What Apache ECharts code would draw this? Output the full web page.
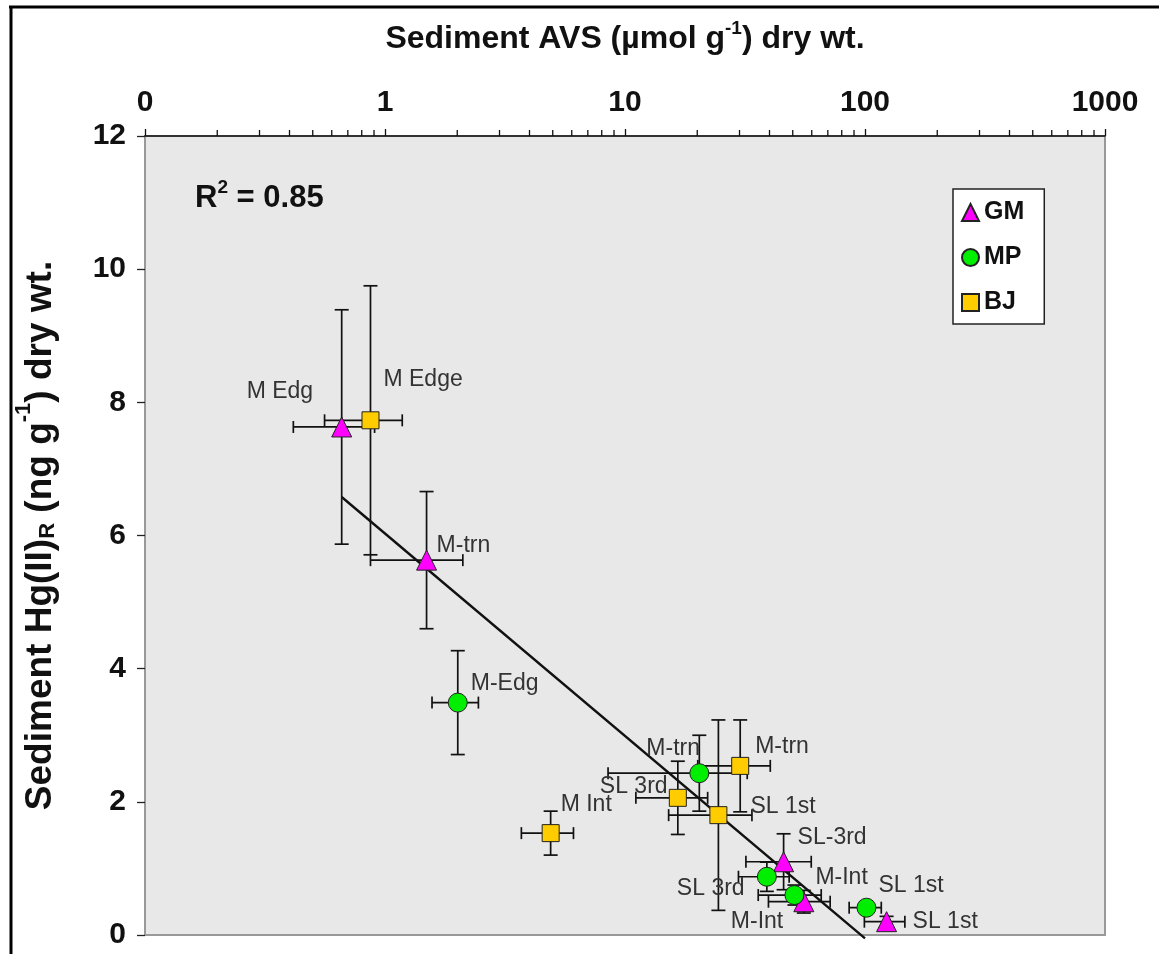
<!DOCTYPE html>
<html>
<head>
<meta charset="utf-8">
<title>Sediment Hg(II)R vs AVS</title>
<script src="https://cdn.jsdelivr.net/npm/echarts@6/dist/echarts.min.js"></script>
<style>
  html, body { margin: 0; padding: 0; background: #ffffff; }
  #chart { width: 1159px; height: 954px; }
</style>
</head>
<body>
<div id="chart"></div>
<script>
// ---- Site data: AVS (x, µmol/g) and reactive Hg(II) (y, ng/g) with ± errors ----
const gmNames = ['M Edg', 'M-trn', 'SL-3rd', 'M-Int', 'SL 1st'];
const gmAVS   = [0.66, 1.49, 45.8, 55.6, 123];
const gmAVSErr = [0.245, 0.62, 13.9, 16, 23.6];
const gmHg    = [7.63, 5.63, 1.10, 0.50, 0.20];
const gmHgErr = [1.76, 1.03, 0.42, 0.17, 0.08];

const mpNames = ['M-Edg', 'M-trn', 'SL 3rd', 'M-Int', 'SL 1st'];
const mpAVS   = [2.01, 20.4, 39.0, 50.8, 101.4];
const mpAVSErr = [0.44, 11.9, 9.3, 14.9, 15.5];
const mpHg    = [3.49, 2.43, 0.875, 0.60, 0.41];
const mpHgErr = [0.78, 0.57, 0.22, 0.15, 0.06];

const bjNames = ['M Edge', 'M Int', 'SL 3rd', 'SL 1st', 'M-trn'];
const bjAVS   = [0.87, 4.90, 16.6, 24.5, 30.2];
const bjAVSErr = [0.31, 1.2, 5.5, 9.3, 10.1];
const bjHg    = [7.73, 1.53, 2.06, 1.80, 2.54];
const bjHgErr = [2.02, 0.33, 0.55, 1.43, 0.69];

// Log-linear fit: Hg = a + b * log10(AVS), drawn across the sampled AVS range
const fitA = 6.03;
const fitB = -3.04;
const fitR2 = '0.85';
const fitAVSRange = [0.66, 100];

// Axis tick values
const avsDecades = [0.1, 1, 10, 100, 1000];
const avsTickText = ['0', '1', '10', '100', '1000'];
const minorMultipliers = [2, 3, 4, 5, 6, 7, 8, 9];

// Label placement (pixels from marker centre to label's left/middle)
const gmLabelOffsets = [[-95, -35], [10, -14], [14, -24], [-73, 20], [26, 0]];
const mpLabelOffsets = [[13, -19], [-53, -25], [-90, 12], [21, -17], [12, -22]];
const bjLabelOffsets = [[13, -41], [10, -28], [-78, -11], [32, -8], [15, -19]];

const FONT = '"Liberation Sans", Arial, Helvetica, sans-serif';
const Y_MAX = 12;

function pointData(names, xs, ys, offsets) {
  return xs.map((x, i) => ({
    name: names[i],
    value: [x, ys[i]],
    label: { offset: offsets[i] }
  }));
}
function errData(xs, xe, ys, ye) {
  return xs.map((x, i) => [x, ys[i], xe[i], ye[i]]);
}

const CAP = 7;
function renderErrorBar(params, api) {
  const x = api.value(0), y = api.value(1), xe = api.value(2), ye = api.value(3);
  const style = { stroke: '#111', lineWidth: 1.7 };
  const children = [];
  if (ye > 0) {
    const t = api.coord([x, y + ye]);
    const b = api.coord([x, y - ye]);
    children.push({ type: 'line', shape: { x1: t[0], y1: t[1], x2: b[0], y2: b[1] }, style });
    children.push({ type: 'line', shape: { x1: t[0] - CAP, y1: t[1], x2: t[0] + CAP, y2: t[1] }, style });
    children.push({ type: 'line', shape: { x1: b[0] - CAP, y1: b[1], x2: b[0] + CAP, y2: b[1] }, style });
  }
  if (xe > 0) {
    const l = api.coord([x - xe, y]);
    const r = api.coord([x + xe, y]);
    children.push({ type: 'line', shape: { x1: l[0], y1: l[1], x2: r[0], y2: r[1] }, style });
    children.push({ type: 'line', shape: { x1: l[0], y1: l[1] - CAP + 1, x2: l[0], y2: l[1] + CAP - 1 }, style });
    children.push({ type: 'line', shape: { x1: r[0], y1: r[1] - CAP + 1, x2: r[0], y2: r[1] + CAP - 1 }, style });
  }
  return { type: 'group', children };
}

// Minor ticks on the log AVS axis (2..9 within each decade)
const minorTickData = [];
avsDecades.slice(0, -1).forEach(d => minorMultipliers.forEach(m => minorTickData.push([d * m, Y_MAX])));
function renderMinorTick(params, api) {
  const p = api.coord([api.value(0), api.value(1)]);
  return { type: 'line', shape: { x1: p[0], y1: p[1], x2: p[0], y2: p[1] - 6 }, style: { stroke: '#111', lineWidth: 1.3 } };
}

const fitLine = fitAVSRange.map(x => [x, fitA + fitB * Math.log10(x)]);

const labelStyle = {
  show: true,
  position: 'inside',
  align: 'left',
  verticalAlign: 'middle',
  formatter: '{b}',
  color: '#333',
  fontFamily: FONT,
  fontSize: 23
};

function scatterSeries(name, symbol, size, color, data) {
  return {
    name, type: 'scatter', symbol, symbolSize: size, z: 5,
    itemStyle: { color, borderColor: '#222', borderWidth: 1, opacity: 1 },
    label: labelStyle,
    emphasis: { disabled: true },
    data
  };
}
function errorSeries(data) {
  return { type: 'custom', renderItem: renderErrorBar, z: 3, silent: true, encode: { x: 0, y: 1 }, data };
}

const chart = echarts.init(document.getElementById('chart'), null, { renderer: 'canvas' });
chart.setOption({
  backgroundColor: '#ffffff',
  animation: false,
  textStyle: { fontFamily: FONT },
  grid: {
    left: 145, top: 136, width: 960, height: 799,
    show: true, backgroundColor: '#e8e8e8', borderColor: '#999', borderWidth: 2
  },
  xAxis: {
    type: 'log', logBase: 10, position: 'top',
    min: avsDecades[0], max: avsDecades[avsDecades.length - 1],
    name: '{b|Sediment AVS (µmol g}{sup|-1}{b|) dry wt.}',
    nameLocation: 'middle', nameGap: 81,
    nameTextStyle: {
      rich: {
        b: { fontFamily: FONT, fontSize: 32, fontWeight: 'bold', color: '#111', lineHeight: 36, verticalAlign: 'bottom' },
        sup: { fontFamily: FONT, fontSize: 19, fontWeight: 'bold', color: '#111', lineHeight: 36, verticalAlign: 'top' }
      }
    },
    axisLine: { show: true, onZero: false, lineStyle: { color: '#111', width: 1.5 } },
    axisTick: { show: true, inside: false, length: 7, lineStyle: { color: '#111', width: 1.3 } },
    axisLabel: {
      margin: 18, fontSize: 30, fontWeight: 'bold', color: '#111', fontFamily: FONT,
      formatter: v => {
        const i = avsDecades.findIndex(d => Math.abs(d - v) / d < 1e-6);
        return i >= 0 ? avsTickText[i] : '';
      }
    },
    splitLine: { show: false }
  },
  yAxis: {
    type: 'value', min: 0, max: Y_MAX, interval: 2,
    name: '{b|Sediment Hg(II)}{sub|R}{b| (ng g}{sup|-1}{b|) dry wt.}',
    nameLocation: 'middle', nameGap: 86,
    nameTextStyle: {
      rich: {
        b: { fontFamily: FONT, fontSize: 37, fontWeight: 'bold', color: '#111', lineHeight: 40, verticalAlign: 'bottom' },
        sup: { fontFamily: FONT, fontSize: 22, fontWeight: 'bold', color: '#111', lineHeight: 40, verticalAlign: 'top' },
        sub: { fontFamily: FONT, fontSize: 22, fontWeight: 'bold', color: '#111', lineHeight: 46, verticalAlign: 'bottom' }
      }
    },
    axisLine: { show: true, lineStyle: { color: '#999', width: 2 } },
    axisTick: { show: true, inside: false, length: 8, lineStyle: { color: '#222', width: 1.3 } },
    axisLabel: { margin: 19, fontSize: 30, fontWeight: 'bold', color: '#111', fontFamily: FONT },
    splitLine: { show: false }
  },
  legend: {
    data: ['GM', 'MP', 'BJ'],
    orient: 'vertical',
    left: 953, top: 189,
    padding: [11, 20, 9, 8],
    itemGap: 20,
    itemWidth: 17, itemHeight: 17,
    backgroundColor: '#ffffff',
    borderColor: '#222', borderWidth: 1.5, borderRadius: 0,
    textStyle: { fontFamily: FONT, fontSize: 25, fontWeight: 'bold', color: '#111', lineHeight: 25 },
    selectedMode: false
  },
  graphic: [
    // figure frame (top and left rules)
    { type: 'line', z: 100, shape: { x1: 9, y1: 7, x2: 1159, y2: 7 }, style: { stroke: '#000', lineWidth: 3 } },
    { type: 'line', z: 100, shape: { x1: 11, y1: 6, x2: 11, y2: 954 }, style: { stroke: '#000', lineWidth: 3 } },
    {
      type: 'text', left: 195, top: 178, z: 50,
      style: {
        text: '{b|R}{sup|2}{b| = ' + fitR2 + '}',
        rich: {
          b: { fontFamily: FONT, fontSize: 31, fontWeight: 'bold', fill: '#111', lineHeight: 36, verticalAlign: 'bottom' },
          sup: { fontFamily: FONT, fontSize: 19, fontWeight: 'bold', fill: '#111', lineHeight: 36, verticalAlign: 'top' }
        }
      }
    }
  ],
  series: [
    { type: 'custom', renderItem: renderMinorTick, data: minorTickData, encode: { x: 0, y: 1 }, silent: true, clip: false, z: 2 },
    {
      type: 'line', data: fitLine, showSymbol: false, symbol: 'none', clip: false, z: 4, silent: true,
      lineStyle: { color: '#111', width: 2.4 }
    },
    errorSeries(errData(gmAVS, gmAVSErr, gmHg, gmHgErr)),
    errorSeries(errData(mpAVS, mpAVSErr, mpHg, mpHgErr)),
    errorSeries(errData(bjAVS, bjAVSErr, bjHg, bjHgErr)),
    scatterSeries('GM', 'triangle', 20, '#ff00ff', pointData(gmNames, gmAVS, gmHg, gmLabelOffsets)),
    scatterSeries('MP', 'circle', 19, '#00ee00', pointData(mpNames, mpAVS, mpHg, mpLabelOffsets)),
    scatterSeries('BJ', 'rect', 17, '#ffcc00', pointData(bjNames, bjAVS, bjHg, bjLabelOffsets))
  ]
});
</script>
</body>
</html>
